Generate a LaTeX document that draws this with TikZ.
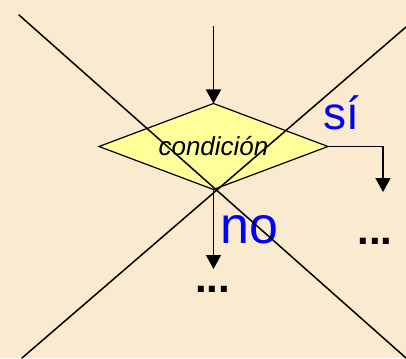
\documentclass[tikz,border=0pt]{standalone}
\usepackage{fontspec}
\setmainfont{Liberation Sans}
\usepackage{tikz}
\usepackage{xcolor}
\usetikzlibrary{shapes.geometric, arrows.meta}
\definecolor{cBack}{RGB}{250,235,208}
\definecolor{cCond}{RGB}{255,255,153}
\definecolor{cLabel}{RGB}{0,0,255}
\tikzset{
	cond/.style     ={diamond, aspect=2.66, minimum width=229pt, minimum height=86pt, inner sep=0pt, outer sep=0pt, draw=black, line width=1.2pt, fill=cCond, font=\fontsize{26}{30}\selectfont\itshape},
	flow/.style     ={-{Triangle[length=14pt, width=15pt]}, line width=1.6pt},
	% labels and continuation dots
	answer/.style   ={inner sep=0pt, text=cLabel},
	more/.style     ={inner sep=0pt, anchor=base, font=\fontsize{42}{46}\selectfont\bfseries},
	crossline/.style={line width=1.5pt, line cap=round},
}
\begin{document}
\begin{tikzpicture}[x=1pt, y=-1pt]
	\fill[cBack] (0,0) rectangle (406,358);
	\useasboundingbox (0,0) rectangle (406,358);
	\node[cond] (c) at (213.5,146.5) {condición};
	\coordinate (in) at (213.5,26);
	\coordinate (nout) at (213.5,269);
	\coordinate (sout) at (383,192);
	\draw[flow] (in) -- (c.north);
	\draw[flow] (c.south) -- (nout);
	\draw[flow] (c.east) -| (sout);
	\node[answer, anchor=base west, font=\fontsize{46}{50}\selectfont] (si) at (323.5,130) {sí};
	\node[answer, anchor=base west, font=\fontsize{52}{56}\selectfont] (no) at (220,243) {no};
	\node[more] (m1) at (212.5,292) {...};
	\node[more] (m2) at (375,244) {...};
	\draw[crossline] (19,15) -- (406,358);
	\draw[crossline] (406,27) -- (22,358);
\end{tikzpicture}
\end{document}
